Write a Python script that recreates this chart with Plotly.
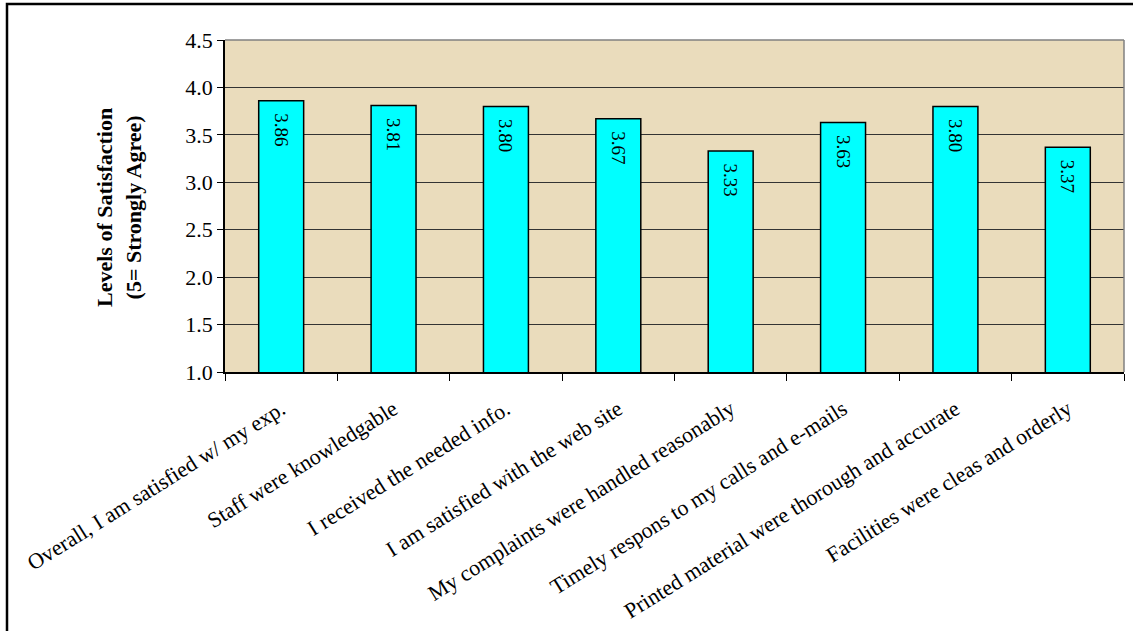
import plotly.graph_objects as go

categories = [
    "Overall, I am satisfied w/ my exp.",
    "Staff were knowledgable",
    "I received the needed info.",
    "I am satisfied with the web site",
    "My complaints were handled reasonably",
    "Timely respons to my calls and e-mails",
    "Printed material were thorough and accurate",
    "Facilities were cleas and orderly",
]
values = [3.86, 3.81, 3.80, 3.67, 3.33, 3.63, 3.80, 3.37]
y_ticks = [1.0, 1.5, 2.0, 2.5, 3.0, 3.5, 4.0, 4.5]
y_title = "Levels of Satisfaction<br>(5= Strongly Agree)"

FONT = "Liberation Serif, Times New Roman, serif"

fig = go.Figure()
fig.add_trace(go.Bar(
    x=categories,
    y=values,
    width=0.4,
    marker=dict(color="#00FFFF", line=dict(color="black", width=1.5)),
    text=["\u2002" + f"{v:.2f}" for v in values],
    textposition="inside",
    insidetextanchor="end",
    textangle=90,
    textfont=dict(family=FONT, size=19, color="black"),
    cliponaxis=True,
))

W, H = 1133, 631
L, R, T, B = 225, 9, 40, 259
pw = W - L - R
ph = H - T - B

fig.update_layout(
    width=W, height=H,
    margin=dict(l=L, r=R, t=T, b=B, pad=0, autoexpand=False),
    paper_bgcolor="white",
    plot_bgcolor="#EADCBC",
    showlegend=False,
    bargap=0.6,
    font=dict(family=FONT, size=22, color="black"),
)
fig.update_xaxes(
    type="category",
    tickangle=-32,
    tickson="boundaries",
    ticks="outside",
    ticklen=7,
    tickcolor="black",
    showline=True, linecolor="black", linewidth=1.5,
    showgrid=False,
    automargin=False,
    ticklabelstandoff=14,
    tickfont=dict(family=FONT, size=22, color="black"),
    mirror=False,
)
fig.update_yaxes(
    range=[1.0, 4.5],
    tickvals=y_ticks,
    ticktext=[f"{t:.1f}" for t in y_ticks],
    ticks="outside",
    ticklen=6,
    tickcolor="black",
    showline=True, linecolor="black", linewidth=1.5,
    showgrid=True, gridcolor="#333333", gridwidth=1,
    zeroline=False,
    automargin=False,
    tickfont=dict(family=FONT, size=22, color="black"),
)

# grey frame on top and right of plot area
fig.add_shape(type="line", xref="paper", yref="paper", x0=0, x1=1, y0=1, y1=1,
              line=dict(color="#808080", width=1.5))
fig.add_shape(type="line", xref="paper", yref="paper", x0=1, x1=1, y0=0, y1=1,
              line=dict(color="#808080", width=1.5))

# outer chart border (left and top visible)
bx0 = (7 - L) / pw
by1 = 1 + (T - 4) / ph
fig.add_shape(type="rect", xref="paper", yref="paper",
              x0=bx0, x1=1 + (R + 20) / pw, y0=-(B + 20) / ph, y1=by1,
              line=dict(color="black", width=2.5), layer="below")

fig.add_annotation(
    text=y_title, xref="paper", yref="paper",
    x=(119 - L) / pw, y=(372 - 208) / ph, xanchor="center", yanchor="middle",
    textangle=-90, showarrow=False,
    font=dict(family=FONT, size=22, color="black", weight="bold"),
)

fig.write_html("out.html")
